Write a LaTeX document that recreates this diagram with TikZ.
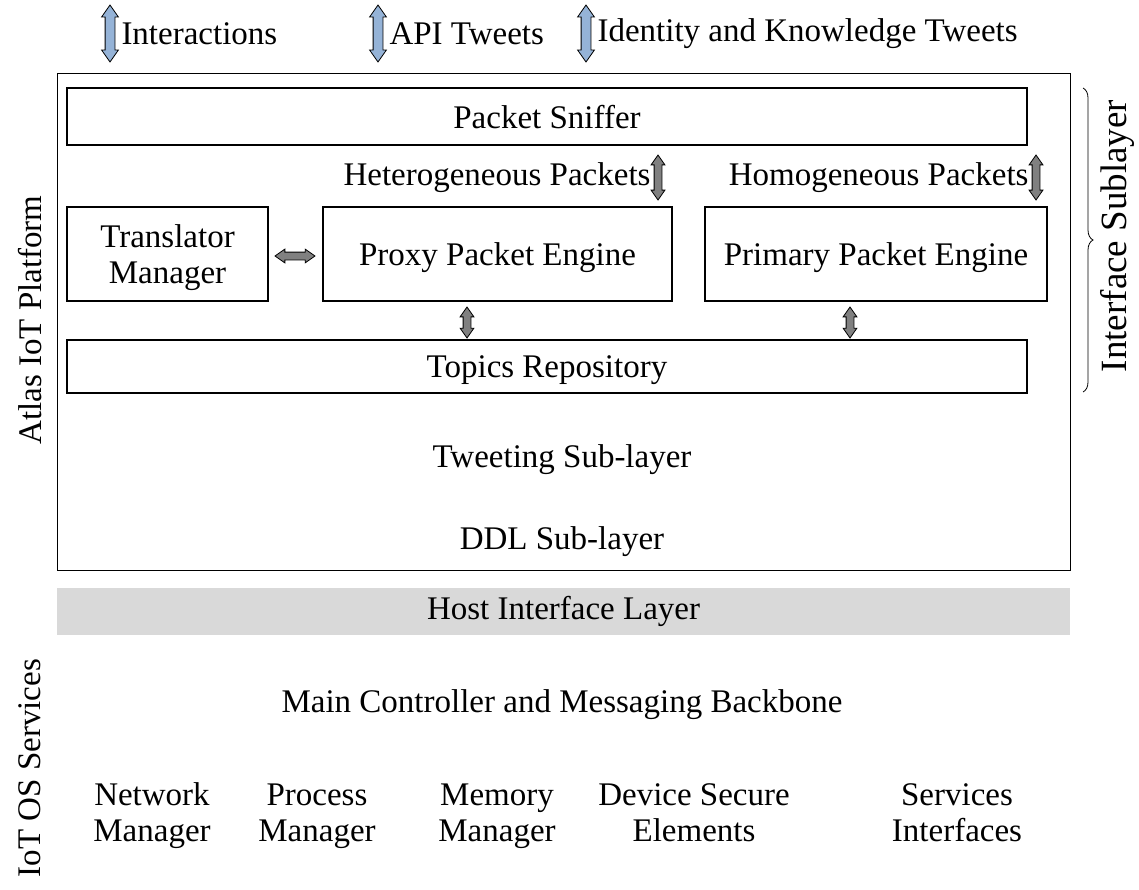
\documentclass[tikz,border=0pt]{standalone}
\usepackage{fontspec}
\setmainfont{Liberation Serif}
\usetikzlibrary{positioning, shapes.arrows, decorations.pathreplacing}
\definecolor{arrowblue}{RGB}{149,179,215}
\definecolor{arrowgray}{RGB}{128,128,128}
\definecolor{hostgray}{RGB}{217,217,217}

\begin{document}
\begin{tikzpicture}[x=1pt, y=-1pt,
            font=\fontsize{33}{36}\selectfont,
            layerbox/.style={rectangle, draw=black, line width=1.6pt, inner sep=0pt, text depth=0pt},
            bluearrow/.style={double arrow, draw=black, line width=0.8pt, fill=arrowblue, inner sep=4.5pt, double arrow head extend=3.5pt, double arrow tip angle=70, shape border rotate=90, minimum height=57pt},
            grayarrow/.style={double arrow, draw=black, line width=0.8pt, fill=arrowgray, inner sep=3.5pt, double arrow head extend=3pt, double arrow tip angle=70, minimum height=#1},
            grayarrow/.default=40pt,
            servicelabel/.style={align=center, anchor=north, inner sep=0pt},
            ]

            \useasboundingbox (0,0) rectangle (1139,889);

            % platform frame
            \node[rectangle, draw=black, line width=1pt, minimum width=1013pt, minimum height=497pt, inner sep=0pt] (platform) at (563.5,321.5) {};

            % top interactions
            \node[bluearrow] (intarrow) at (110,33.5) {};
            \node[anchor=west, inner sep=0pt] (interactions) at ([xshift=6pt]intarrow.east) {Interactions};
            \node[bluearrow] (apiarrow) at (378,33.5) {};
            \node[anchor=west, inner sep=0pt] (api) at ([xshift=6pt]apiarrow.east) {API Tweets};
            \node[bluearrow] (idarrow) at (586,33.5) {};
            \node[anchor=west, inner sep=0pt] (identity) at ([xshift=6pt]idarrow.east) {Identity and Knowledge Tweets};

            % interface sublayer
            \node[layerbox, minimum width=960pt, minimum height=57pt] (sniffer) at (547,116.5) {Packet Sniffer};
            \node[layerbox, minimum width=201pt, minimum height=94pt, align=center] (translator) at (167.5,254) {Translator\\Manager};
            \node[layerbox, minimum width=349pt, minimum height=94pt] (proxy) at (497.5,254) {Proxy Packet Engine};
            \node[layerbox, minimum width=342pt, minimum height=94pt] (primary) at (876,254) {Primary Packet Engine};
            \node[layerbox, minimum width=960pt, minimum height=53pt] (topics) at (547,366.5) {Topics Repository};

            \node[grayarrow=45pt, shape border rotate=90] (heteroarrow) at (658,177.5) {};
            \node[anchor=east, inner sep=0pt] (hetero) at ([xshift=-3pt]heteroarrow.west) {Heterogeneous Packets};
            \node[grayarrow=45pt, shape border rotate=90] (homoarrow) at (1036,177.5) {};
            \node[anchor=east, inner sep=0pt] (homo) at ([xshift=-3pt]homoarrow.west) {Homogeneous Packets};
            \node[grayarrow=40pt] (transarrow) at (295,256) {};
            \node[grayarrow=31pt, shape border rotate=90] (proxyarrow) at (467,322.5) {};
            \node[grayarrow=31pt, shape border rotate=90] (primaryarrow) at (850,322.5) {};

            \node (tweeting) at (562,460) {Tweeting Sub-layer};
            \node (ddl) at (562,542) {DDL Sub-layer};

            \draw[decorate, decoration={brace, amplitude=10pt}, line width=0.8pt] (1083,88) -- (1083,392);
            \node[rotate=90, font=\fontsize{37}{40}\selectfont] (sublayer) at (1117,236) {Interface Sublayer};
            \node[rotate=90] (atlas) at (30,320) {Atlas IoT Platform};

            % host and OS services
            \node[rectangle, fill=hostgray, minimum width=1013pt, minimum height=47pt, inner sep=0pt] (host) at (563.5,611.5) {Host Interface Layer};
            \node (controller) at (562,705) {Main Controller and Messaging Backbone};
            \node[servicelabel] (network) at (152,780) {\strut Network\\Manager};
            \node[servicelabel] (process) at (317,780) {\strut Process\\Manager};
            \node[servicelabel] (memory) at (497,780) {\strut Memory\\Manager};
            \node[servicelabel] (secure) at (694,780) {\strut Device Secure\\Elements};
            \node[servicelabel] (services) at (957,780) {\strut Services\\Interfaces};
            \node[rotate=90] (osservices) at (30,768) {IoT OS Services};
        \end{tikzpicture}
\end{document}
